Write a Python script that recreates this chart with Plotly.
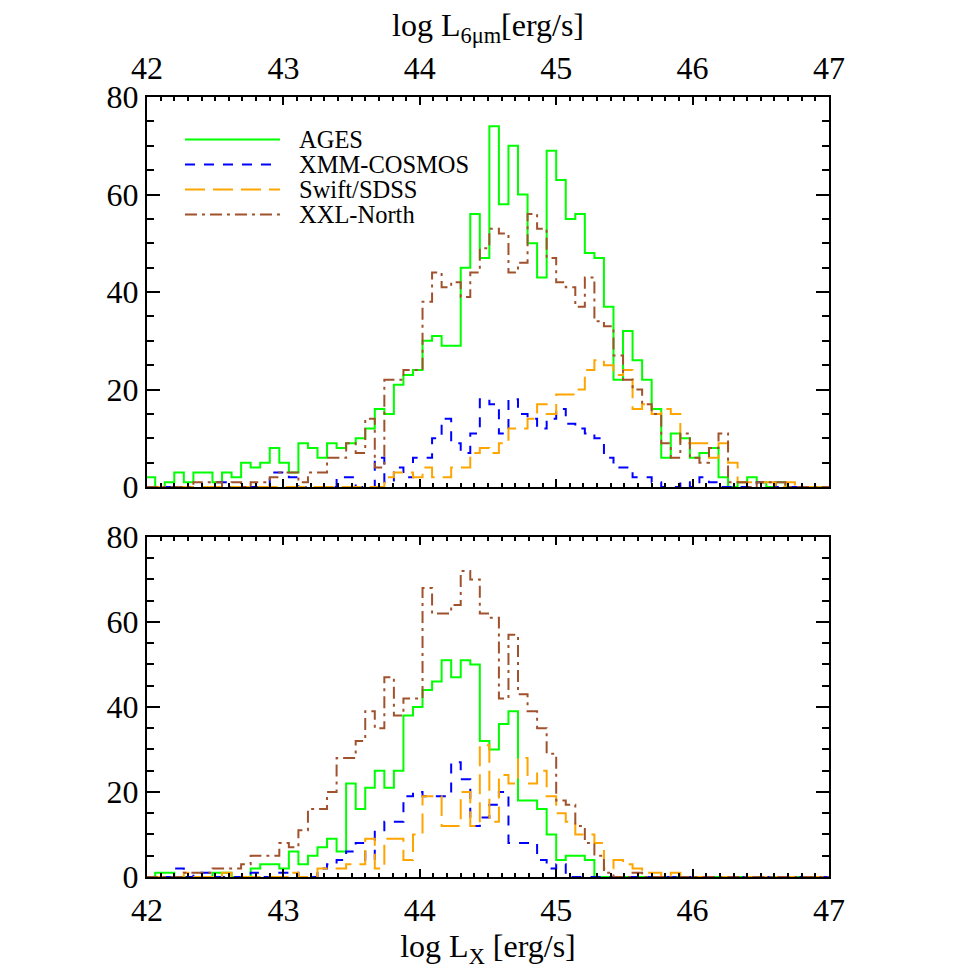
import numpy as np
import plotly.graph_objects as go

# Histogram binning (log luminosity, dex)
BIN_START = 41.99
BIN_WIDTH = 0.07

# ---- Top panel: log L_6um ----
ages_top = [2, 0, 1, 3, 1, 3, 3, 1, 3, 2,
            5, 4, 5, 8, 5, 3, 9, 8, 6, 9,
            8, 9, 10, 12, 16, 15, 21, 23, 24, 30,
            31, 29, 29, 45, 56, 47, 74, 58, 70, 60,
            50, 43, 69, 63, 55, 56, 48, 47, 37, 22,
            32, 26, 22, 16, 6, 11, 10, 6, 7, 8,
            2, 0, 1, 2, 1, 0, 1, 0, 0, 0,
            0, 0]
xmm_top = [0, 0, 0, 0, 0, 0, 0, 1, 1, 0,
           0, 0, 0, 3, 3, 2, 0, 0, 0, 0,
           2, 2, 0, 0, 6, 1, 4, 2, 6, 6,
           10, 14, 9, 7, 11, 18, 17, 11, 18, 15,
           14, 12, 14, 16, 13, 12, 11, 10, 6, 4,
           4, 2, 2, 1, 0, 0, 1, 0, 2, 1,
           0, 0, 0, 0, 1, 1, 0, 0, 0, 0,
           0, 0]
swift_top = [0, 0, 0, 0, 0, 0, 0, 0, 0, 0,
             0, 0, 0, 0, 0, 0, 0, 0, 0, 0,
             0, 0, 0, 0, 0, 2, 3, 3, 2, 4,
             2, 2, 4, 4, 7, 8, 7, 9, 12, 12,
             14, 17, 15, 19, 19, 20, 24, 26, 25, 23,
             24, 16, 17, 15, 16, 15, 9, 9, 9, 6,
             9, 5, 1, 1, 1, 1, 0, 1, 0, 0,
             0, 0]
xxl_top = [0, 0, 0, 0, 0, 1, 1, 1, 0, 1,
           0, 1, 1, 2, 3, 3, 1, 3, 3, 6,
           6, 9, 7, 14, 4, 22, 22, 24, 24, 38,
           44, 41, 42, 39, 44, 49, 53, 52, 44, 46,
           56, 53, 47, 42, 41, 37, 43, 34, 33, 27,
           22, 20, 17, 15, 9, 6, 11, 6, 5, 8,
           11, 1, 1, 0, 1, 1, 1, 0, 0, 0,
           0, 0]

# ---- Bottom panel: log L_X ----
ages_bot = [0, 1, 1, 0, 0, 0, 0, 1, 1, 0,
            0, 2, 3, 3, 2, 6, 3, 5, 7, 9,
            6, 22, 16, 21, 25, 21, 25, 38, 40, 44,
            46, 51, 47, 51, 50, 32, 30, 36, 39, 18,
            18, 16, 10, 4, 5, 5, 4, 0, 0, 0,
            0, 0, 0, 0, 0, 0, 0, 0, 0, 0,
            0, 0, 0, 0, 0, 0, 0, 0, 0, 0,
            0, 0]
xmm_bot = [0, 0, 0, 2, 0, 1, 1, 0, 0, 0,
           0, 1, 0, 0, 1, 1, 0, 0, 2, 3,
           4, 6, 8, 4, 11, 13, 13, 19, 20, 19,
           19, 19, 27, 23, 12, 14, 17, 20, 8, 8,
           8, 4, 2, 3, 0, 0, 0, 0, 0, 0,
           0, 0, 0, 0, 0, 0, 0, 0, 0, 0,
           0, 0, 0, 0, 0, 0, 0, 0, 0, 0,
           0, 0]
swift_bot = [0, 0, 0, 0, 1, 0, 0, 0, 1, 0,
             0, 0, 0, 0, 0, 1, 0, 0, 2, 2,
             2, 3, 3, 9, 2, 9, 9, 4, 10, 19,
             19, 12, 12, 20, 12, 31, 13, 24, 22, 28,
             22, 25, 19, 15, 13, 10, 10, 8, 2, 4,
             3, 2, 1, 1, 0, 1, 0, 0, 0, 0,
             0, 0, 0, 0, 0, 0, 0, 0, 0, 0,
             0, 0]
xxl_bot = [0, 0, 0, 0, 1, 1, 1, 2, 2, 2,
           3, 5, 5, 5, 8, 7, 11, 16, 16, 20,
           28, 28, 32, 39, 35, 47, 38, 42, 42, 68,
           62, 62, 64, 72, 70, 62, 61, 42, 57, 43,
           39, 35, 29, 18, 17, 12, 8, 5, 1, 0,
           0, 1, 0, 0, 0, 0, 0, 0, 0, 0,
           0, 0, 0, 0, 0, 0, 0, 0, 0, 0,
           0, 0]

series_names = ["AGES", "XMM-COSMOS", "Swift/SDSS", "XXL-North"]
series_colors = ["#00ff00", "#0000ff", "#ffa500", "#a0522d"]
series_dash = ["solid", "10px,9px", "20px,8px", "12px,5px,3px,5px"]

top_data = [ages_top, xmm_top, swift_top, xxl_top]
bot_data = [ages_bot, xmm_bot, swift_bot, xxl_bot]


def step_xy(counts):
    counts = np.asarray(counts, dtype=float)
    n = len(counts)
    edges = BIN_START + BIN_WIDTH * np.arange(n + 1)
    y = np.append(counts, counts[-1])
    return edges, y


FONT = "Liberation Serif, Times New Roman, serif"
BIG = 32
fig = go.Figure()

for panel, data in (("top", top_data), ("bot", bot_data)):
    for name, color, dash, counts in zip(series_names, series_colors, series_dash, data):
        x, y = step_xy(counts)
        fig.add_trace(go.Scatter(
            x=x, y=y, mode="lines", name=name,
            line=dict(shape="hv", color=color, width=2, dash=dash),
            xaxis="x" if panel == "top" else "x2",
            yaxis="y" if panel == "top" else "y2",
            showlegend=False,
        ))

common_x = dict(range=[42, 47], tick0=42, dtick=1, ticks="inside", ticklen=8, tickwidth=2,
                tickcolor="black", showline=True, linewidth=2, linecolor="black",
                mirror="allticks", showgrid=False, zeroline=False,
                minor=dict(dtick=0.1, ticklen=4, tickwidth=1.5, ticks="inside", tickcolor="black", showgrid=False),
                tickfont=dict(family=FONT, size=BIG, color="black"))
common_y = dict(range=[0, 80], tick0=0, dtick=20, ticks="inside", ticklen=13, tickwidth=2,
                tickcolor="black", showline=True, linewidth=2, linecolor="black",
                mirror="allticks", showgrid=False, zeroline=False,
                minor=dict(dtick=5, ticklen=7, tickwidth=1.5, ticks="inside", tickcolor="black", showgrid=False),
                tickfont=dict(family=FONT, size=BIG, color="black"), ticklabelstandoff=0)

fig.update_layout(
    width=975, height=975,
    margin=dict(l=147, r=146, t=97, b=98),
    paper_bgcolor="white", plot_bgcolor="white",
    showlegend=False,
    xaxis=dict(common_x, anchor="y", side="top", ticklabelstandoff=3,
               title=dict(text="log L<sub>6μm</sub>[erg/s]", font=dict(family=FONT, size=BIG, color="black"), standoff=4)),
    yaxis=dict(common_y, anchor="x", domain=[0.5, 1.0]),
    xaxis2=dict(common_x, anchor="y2", side="bottom", ticklabelstandoff=4,
                title=dict(text="log L<sub>X</sub> [erg/s]", font=dict(family=FONT, size=BIG, color="black"), standoff=0)),
    yaxis2=dict(common_y, anchor="x2", domain=[0.0, 0.436]),
)

# Manual legend inside top panel
leg_rows = [0.891, 0.827, 0.763, 0.699]
for name, color, dash, yy in zip(series_names, series_colors, series_dash, leg_rows):
    fig.add_shape(type="line", xref="x domain", yref="y domain",
                  x0=0.0557, x1=0.195, y0=yy, y1=yy,
                  line=dict(color=color, width=2, dash=dash))
    fig.add_annotation(xref="x domain", yref="y domain", x=0.22, y=yy,
                       text=name, showarrow=False, xanchor="left", yanchor="middle",
                       font=dict(family=FONT, size=24.5, color="black"))

fig.write_html("out.html")
